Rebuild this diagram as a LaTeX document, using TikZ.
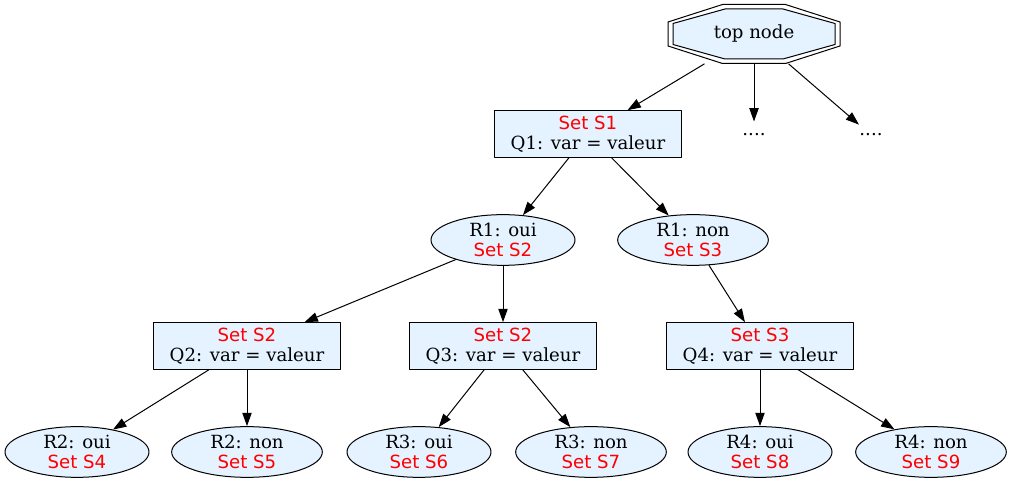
\documentclass[tikz,border=0pt]{standalone}
\usepackage{fontspec}
\setmainfont{DejaVu Serif}
\newfontfamily\redfont{DejaVu Sans}
\usetikzlibrary{arrows.meta,shapes.geometric}
\definecolor{nodefill}{RGB}{228,243,255}
\newcommand{\setlbl}[1]{{\redfont\color{red}#1}}
\tikzset{
	qbox/.style={draw, fill=nodefill, rectangle, minimum width=140pt, minimum height=35pt, align=center, inner sep=2pt},
	ans/.style={draw, fill=nodefill, ellipse, minimum width=108pt, minimum height=37pt, align=center, inner sep=1pt},
	answide/.style={ans, minimum width=113pt},
	more/.style={minimum height=19.5pt, inner sep=0pt}
}
\begin{document}
\begin{tikzpicture}[x=0.75pt,y=0.75pt,>={Triangle[length=10pt,width=7pt]}, font=\fontsize{13.6}{14.6}\selectfont, line width=0.75pt, line join=round]
	\useasboundingbox (0,0) rectangle (1011,492);
	% top node (double octagon)
	\node[minimum width=118pt, minimum height=44pt] (top) at (754,458) {};
	\begin{scope}[shift={(top.center)}]
		\draw (-31.5,29.5)--(31.5,29.5)--(86,12)--(86,-12)--(31.5,-29.5)--(-31.5,-29.5)--(-86,-12)--(-86,12)--cycle;
		\draw[fill=nodefill] (-29,25)--(29,25)--(81,10.5)--(81,-10.5)--(29,-25)--(-29,-25)--(-81,-10.5)--(-81,10.5)--cycle;
	\end{scope}
	\node at (top) {top node};
	% level 1
	\node[qbox] (s1) at (588,358) {\setlbl{Set S1}\\Q1: var = valeur};
	\node[more] (d1) at (754,357) {....};
	\node[more] (d2) at (871,357) {....};
	% level 2
	\node[ans] (r1oui) at (503,252) {R1: oui\\\setlbl{Set S2}};
	\node[answide] (r1non) at (693,252) {R1: non\\\setlbl{Set S3}};
	% level 3
	\node[qbox] (q2) at (247,146) {\setlbl{Set S2}\\Q2: var = valeur};
	\node[qbox] (q3) at (503,146) {\setlbl{Set S2}\\Q3: var = valeur};
	\node[qbox] (q4) at (760,146) {\setlbl{Set S3}\\Q4: var = valeur};
	% leaves
	\node[ans] (r2oui) at (77,40) {R2: oui\\\setlbl{Set S4}};
	\node[answide] (r2non) at (247,40) {R2: non\\\setlbl{Set S5}};
	\node[ans] (r3oui) at (419,40) {R3: oui\\\setlbl{Set S6}};
	\node[answide] (r3non) at (591,40) {R3: non\\\setlbl{Set S7}};
	\node[ans] (r4oui) at (760,40) {R4: oui\\\setlbl{Set S8}};
	\node[answide] (r4non) at (931,40) {R4: non\\\setlbl{Set S9}};
	% edges
	\foreach \a/\b in {top/s1,top/d1,top/d2,s1/r1oui,s1/r1non,r1oui/q2,r1oui/q3,r1non/q4,q2/r2oui,q2/r2non,q3/r3oui,q3/r3non,q4/r4oui,q4/r4non}
		\draw[->] (\a) -- (\b);
\end{tikzpicture}
\end{document}
